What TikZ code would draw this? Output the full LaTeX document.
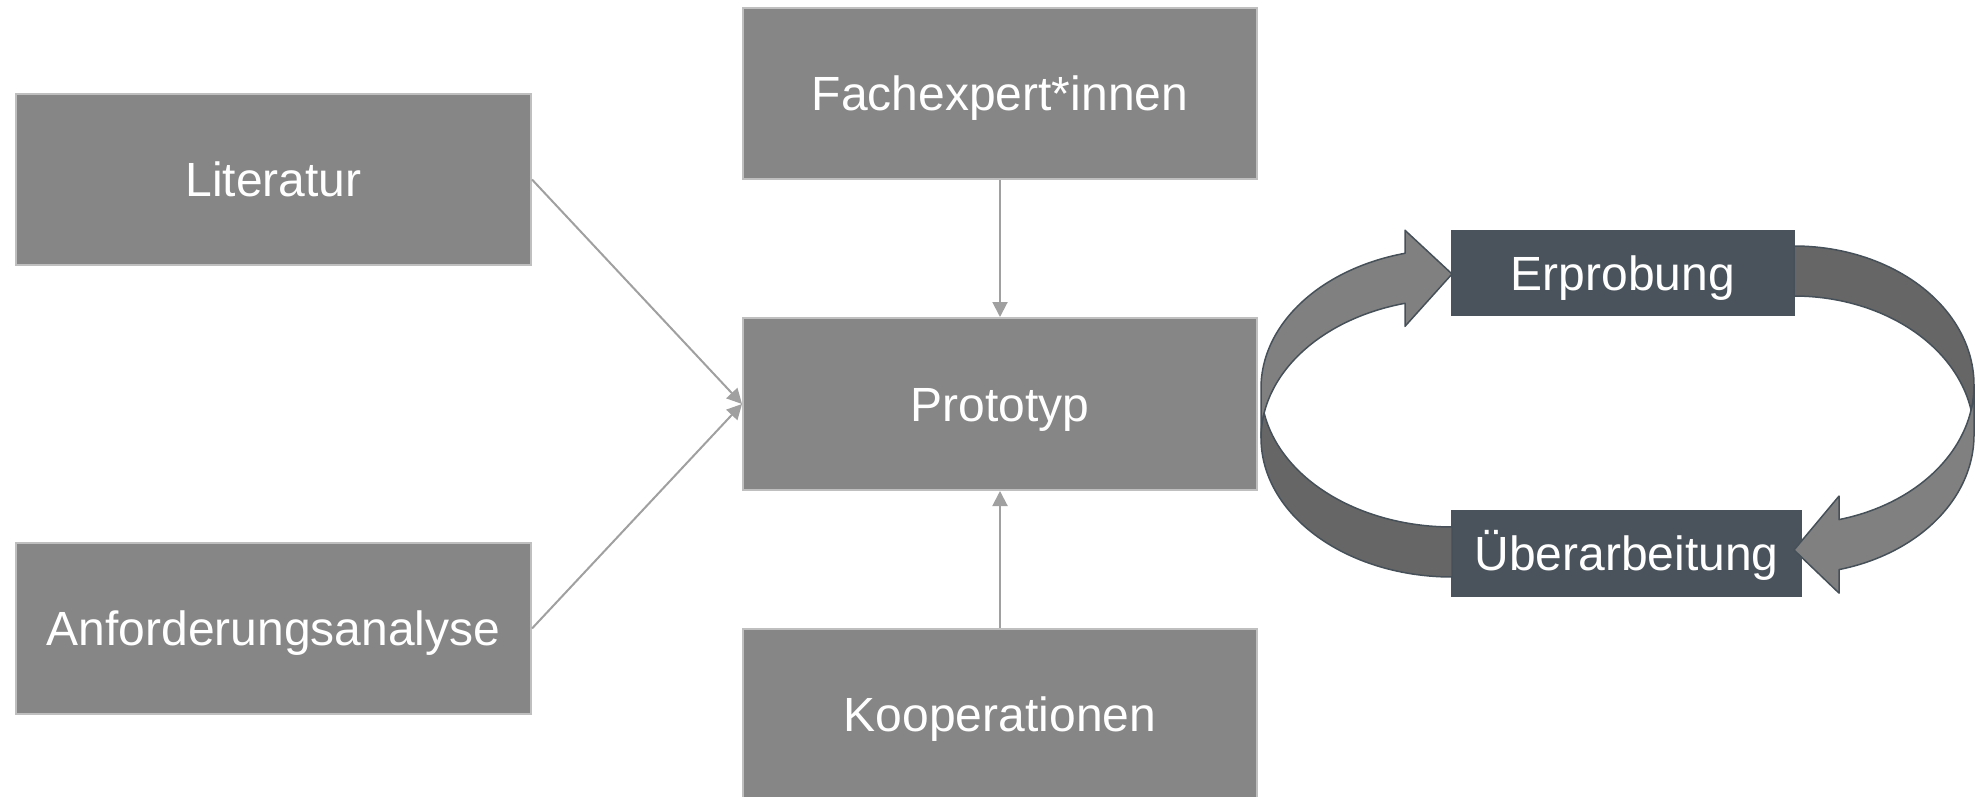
\documentclass[tikz,border=0pt]{standalone}
\usepackage{fontspec}
\setmainfont{Liberation Sans}
\usetikzlibrary{arrows.meta}
\definecolor{boxgray}{HTML}{868686}
\definecolor{boxline}{HTML}{BFBFBF}
\definecolor{slate}{HTML}{4A535B}
\definecolor{conncol}{HTML}{A0A0A0}
\definecolor{frontcol}{HTML}{808080}
\definecolor{backcol}{HTML}{666666}
\definecolor{rimcol}{HTML}{465058}
\begin{document}
\begin{tikzpicture}[x=0.5pt,y=-0.5pt,
  gbox/.style={draw=boxline, line width=1pt, fill=boxgray, text=white, inner sep=0pt,
    font=\fontsize{24}{29}\selectfont, text height=17.2pt, text depth=0pt},
  dbox/.style={gbox, draw=slate, fill=slate},
  link/.style={draw=conncol, line width=1pt, -{Triangle[length=7.5pt,width=7.5pt]}},
  frontband/.style={fill=frontcol, draw=rimcol, line width=0.75pt, line join=round},
  backband/.style={fill=backcol, draw=rimcol, line width=0.75pt, line join=round}]
\useasboundingbox (0,0) rectangle (1975,797);
\clip (0,0) rectangle (1975,797);
% boxes
\node[gbox, minimum width=257.5pt, minimum height=85.5pt] (lit) at (273.5,179.5) {Literatur};
\node[gbox, minimum width=257.5pt, minimum height=85.5pt] (anf) at (273.5,628.5) {Anforderungsanalyse};
\node[gbox, minimum width=257pt, minimum height=85.5pt] (fach) at (1000,93.5) {Fachexpert*innen};
\node[gbox, minimum width=257pt, minimum height=86pt] (proto) at (1000,404) {Prototyp};
\node[gbox, minimum width=257pt, minimum height=85.5pt] (koop) at (1000,714.5) {Kooperationen};
\node[dbox, minimum width=171pt, minimum height=42pt] (erp) at (1623,273) {Erprobung};
\node[dbox, minimum width=174.5pt, minimum height=42.5pt] (ueb) at (1626.5,553.5) {Überarbeitung};
% connectors
\draw[link] (lit.east) -- (proto.west);
\draw[link] (anf.east) -- (proto.west);
\draw[link] (fach.south) -- (proto.north);
\draw[link] (koop.north) -- (proto.south);
% left curved arrow (Ueberarbeitung -> Erprobung)
\path[frontband] plot[domain=180:255.75, samples=60, variable=\t] ({1452+191*cos(\t)},{438+139*sin(\t)})
  -- (1405,326.3) -- (1452,274) -- (1405,230.3)
  -- plot[domain=255.75:180, samples=60, variable=\t] ({1452+191*cos(\t)},{388+139*sin(\t)}) -- cycle;
\path[backband] plot[domain=90:190.36, samples=60, variable=\t] ({1452+191*cos(\t)},{438+139*sin(\t)})
  -- plot[domain=169.64:90, samples=60, variable=\t] ({1452+191*cos(\t)},{388+139*sin(\t)}) -- cycle;
% right curved arrow (Erprobung -> Ueberarbeitung)
\path[frontband] plot[domain=0:75.52, samples=60, variable=\t] ({1794+180*cos(\t)},{385+139*sin(\t)})
  -- (1839,496.1) -- (1794,550) -- (1839,593.1)
  -- plot[domain=75.52:0, samples=60, variable=\t] ({1794+180*cos(\t)},{435+139*sin(\t)}) -- cycle;
\path[backband] plot[domain=270:370.36, samples=60, variable=\t] ({1794+180*cos(\t)},{385+139*sin(\t)})
  -- plot[domain=349.64:270, samples=60, variable=\t] ({1794+180*cos(\t)},{435+139*sin(\t)}) -- cycle;
\end{tikzpicture}
\end{document}
